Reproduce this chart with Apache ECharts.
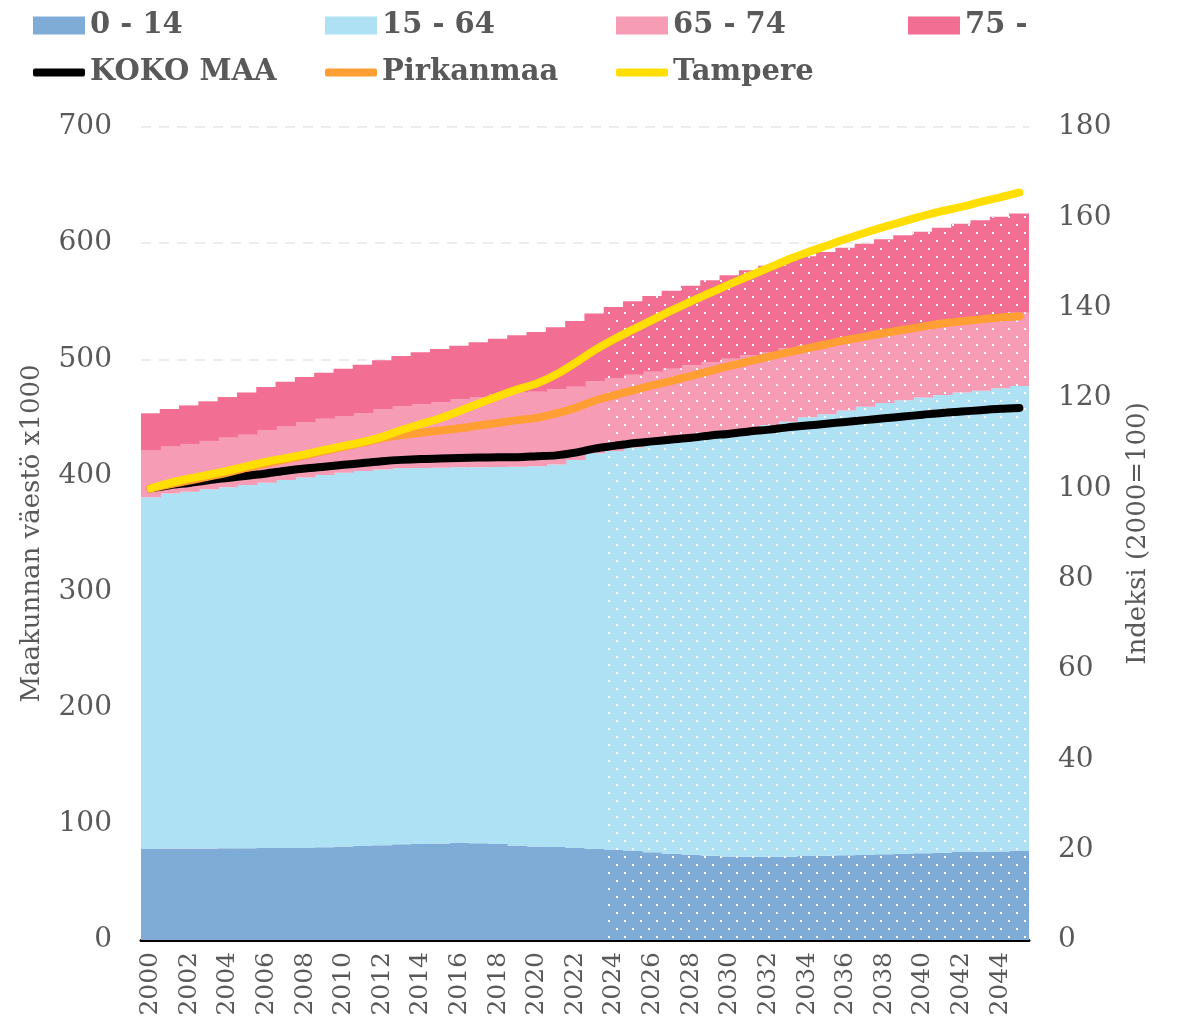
<!DOCTYPE html>
<html>
<head>
<meta charset="utf-8">
<script src="https://cdn.jsdelivr.net/npm/echarts@6/dist/echarts.min.js"></script>
<style>
html,body{margin:0;padding:0;background:#fff;}
#chart{width:1179px;height:1020px;}
</style>
</head>
<body>
<div id="chart"></div>
<script>
const years = [];
for (let y = 2000; y <= 2045; y++) years.push(String(y));

const age0_14 = [78.4,78.7,78.7,78.7,79.0,79.0,79.3,79.3,79.3,79.9,80.4,81.0,81.5,82.4,82.7,83.0,83.5,83.2,82.7,81.3,80.4,80.1,79.3,78.4,77.5,76.6,75.5,74.3,73.5,72.6,72.0,71.7,71.7,71.7,72.3,72.6,72.9,73.2,73.8,74.0,74.6,75.2,75.8,76.0,76.3,76.6];
const age15_64 = [302.8,305.8,307.3,309.3,310.8,312.8,314.4,316.7,319.0,320.5,321.9,322.8,323.7,323.7,323.7,323.7,323.5,323.8,324.6,326.2,327.4,329.4,334.0,340.6,343.5,347.4,351.5,355.7,359.5,363.4,367.1,368.3,371.7,374.6,377.7,380.0,383.1,386.0,388.6,390.7,392.4,394.1,395.5,397.0,398.7,400.4];
const age65_74 = [40.7,40.3,41.1,41.7,42.7,43.3,45.4,46.6,47.7,48.5,48.9,50.0,52.0,53.7,54.8,56.3,58.5,60.5,62.5,64.0,64.3,64.6,63.1,62.0,62.9,62.7,62.3,61.9,61.8,61.7,61.4,63.4,62.9,63.1,62.3,62.3,61.2,60.5,59.9,59.9,59.6,59.6,60.2,61.1,62.0,63.1];
const age75 = [31.6,32.4,33.2,34.1,35.0,36.4,37.0,38.1,38.7,39.6,40.7,41.6,41.9,43.0,44.8,45.9,46.2,47.1,47.9,49.1,51.4,53.4,56.6,58.5,61.1,63.2,65.2,67.1,68.6,70.3,71.8,73.2,74.3,75.2,76.4,77.5,78.9,79.8,81.0,82.1,83.3,84.4,85.3,85.6,85.8,85.5];

const kokoMaa = [100,100.7,101.2,101.8,102.3,102.8,103.3,103.9,104.4,104.8,105.2,105.6,106.0,106.3,106.5,106.6,106.7,106.8,106.9,106.9,107.1,107.3,107.9,108.8,109.4,110.0,110.4,110.8,111.2,111.7,112.1,112.6,113.0,113.5,113.9,114.3,114.7,115.1,115.5,115.9,116.3,116.7,117.0,117.3,117.6,117.8];
const pirkanmaa = [100,100.9,101.7,102.6,103.5,104.6,105.5,106.4,107.3,108.3,109.2,110.1,111.1,111.8,112.3,112.8,113.3,113.9,114.5,115.1,115.6,116.6,117.8,119.4,120.6,121.7,122.8,123.8,124.9,126.0,127.1,128.1,129.1,130.1,131.0,131.9,132.8,133.6,134.4,135.1,135.8,136.5,137.0,137.4,137.8,138.1];
const tampere = [100,101.2,102.2,103.0,103.9,104.9,105.9,106.7,107.5,108.5,109.4,110.3,111.4,112.9,114.2,115.5,117.1,118.8,120.4,121.9,123.2,125.2,127.8,130.6,133.0,135.2,137.3,139.4,141.4,143.3,145.2,147.0,148.8,150.6,152.2,153.7,155.2,156.6,157.9,159.1,160.3,161.4,162.3,163.4,164.4,165.5];

const leftTicks = {min: 0, max: 700, interval: 100};
const rightTicks = {min: 0, max: 180, interval: 20};
const projectionStart = 2024;

const barNames = ['0 - 14', '15 - 64', '65 - 74', '75 -'];
const lineNames = ['KOKO MAA', 'Pirkanmaa', 'Tampere'];

const textColor = '#595959';
const serif = 'DejaVu Serif';

const decal = {
  symbol: 'rect',
  symbolSize: 1,
  color: '#ffffff',
  dashArrayX: [[2, 14], [0, 8, 2, 6]],
  dashArrayY: [2, 6],
  rotation: 0
};

function barData(arr) {
  return arr.map((v, i) => {
    if (Number(years[i]) >= projectionStart) {
      return {value: v, itemStyle: {decal: decal}};
    }
    return v;
  });
}

function barSeries(name, arr, color) {
  return {
    name: name, type: 'bar', stack: 'pop', yAxisIndex: 0,
    barWidth: '106%',
    itemStyle: {color: color},
    emphasis: {disabled: true},
    data: barData(arr)
  };
}

function lineSeries(name, arr, color) {
  return {
    name: name, type: 'line', yAxisIndex: 1,
    symbol: 'none', smooth: 0.3,
    lineStyle: {color: color, width: 8, cap: 'round', join: 'round'},
    itemStyle: {color: color},
    emphasis: {disabled: true},
    data: arr
  };
}

const legendText = {fontFamily: serif, fontWeight: 'bold', fontSize: 29, color: textColor};
const legendLefts = [28, 320, 611, 903];
const legends = [];
barNames.forEach((n, i) => {
  legends.push({
    data: [n], left: legendLefts[i], top: 6,
    itemWidth: 52, itemHeight: 18, icon: 'rect',
    textStyle: legendText, selectedMode: false
  });
});
lineNames.forEach((n, i) => {
  legends.push({
    data: [n], left: legendLefts[i], top: 53,
    itemWidth: 52, itemHeight: 8, icon: 'roundRect',
    textStyle: legendText, selectedMode: false
  });
});

const chart = echarts.init(document.getElementById('chart'), null, {renderer: 'canvas'});
chart.setOption({
  animation: false,
  backgroundColor: '#ffffff',
  legend: legends,
  grid: {left: 141, right: 150, top: 127, bottom: 80, containLabel: false},
  xAxis: {
    type: 'category',
    data: years,
    boundaryGap: true,
    axisLine: {lineStyle: {color: '#000000', width: 3}},
    axisTick: {show: false},
    axisLabel: {rotate: 90, interval: 1, margin: 12, fontFamily: serif, fontSize: 25, color: textColor}
  },
  yAxis: [
    {
      type: 'value', min: leftTicks.min, max: leftTicks.max, interval: leftTicks.interval,
      name: 'Maakunnan väestö x1000', nameLocation: 'middle', nameRotate: 90, nameGap: 96,
      nameTextStyle: {fontFamily: serif, fontSize: 26, color: textColor},
      axisLine: {show: false}, axisTick: {show: false},
      axisLabel: {fontFamily: serif, fontSize: 28, color: textColor, margin: 29},
      splitLine: {show: true, lineStyle: {color: '#ececec', width: 2, type: [10, 8]}}
    },
    {
      type: 'value', min: rightTicks.min, max: rightTicks.max, interval: rightTicks.interval,
      position: 'right',
      name: 'Indeksi (2000=100)', nameLocation: 'middle', nameRotate: 90, nameGap: 96,
      nameTextStyle: {fontFamily: serif, fontSize: 26, color: textColor},
      axisLine: {show: false}, axisTick: {show: false},
      axisLabel: {fontFamily: serif, fontSize: 28, color: textColor, margin: 29},
      splitLine: {show: false}
    }
  ],
  series: [
    barSeries(barNames[0], age0_14, '#7facd7'),
    barSeries(barNames[1], age15_64, '#ade1f3'),
    barSeries(barNames[2], age65_74, '#f79cb5'),
    barSeries(barNames[3], age75, '#f36e93'),
    lineSeries(lineNames[0], kokoMaa, '#000000'),
    lineSeries(lineNames[1], pirkanmaa, '#ff9e33'),
    lineSeries(lineNames[2], tampere, '#ffde00')
  ]
});
</script>
</body>
</html>
